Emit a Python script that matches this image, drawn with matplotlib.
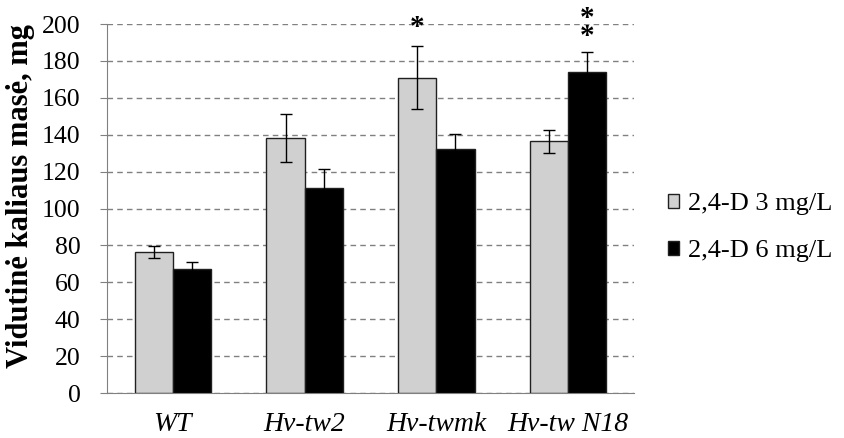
import matplotlib
matplotlib.use("Agg")
import matplotlib.pyplot as plt
import numpy as np

categories = ["WT", "Hv-tw2", "Hv-twmk", "Hv-tw N18"]
series_names = ["2,4-D 3 mg/L", "2,4-D 6 mg/L"]
vals_3 = [76.5, 138, 171, 136.5]
err_3 = [3.3, 13, 17, 6.3]
vals_6 = [67, 111, 132, 174]
err_6 = [4.2, 10.3, 8.5, 11]
stars_3 = ["", "", "*", ""]
stars_6 = ["", "", "", "*\n*"]
yticks = list(range(0, 201, 20))

plt.rcParams['font.family'] = ['Liberation Serif', 'DejaVu Serif']

fig = plt.figure(figsize=(8.44, 4.38), dpi=100)
ax = fig.add_axes([0.1268, 0.1027, 0.6244, 0.8425])

x = np.arange(len(categories))
w = 0.29
ekw = dict(ecolor='black', elinewidth=1.0, capsize=4.5, capthick=1.0)
ax.bar(x - w/2, vals_3, w, yerr=err_3, color='#D0D0D0', edgecolor='#202020',
       linewidth=1.0, label=series_names[0], error_kw=ekw, zorder=3)
ax.bar(x + w/2, vals_6, w, yerr=err_6, color='black', edgecolor='#202020',
       linewidth=1.0, label=series_names[1], error_kw=ekw, zorder=3)

for i, s in enumerate(stars_3):
    if s:
        ax.text(x[i] - w/2, 198, s, ha='center', va='center', fontsize=21,
                fontweight='bold', linespacing=0.6, zorder=4)
for i, s in enumerate(stars_6):
    if s:
        ax.text(x[i] + w/2, 198, s, ha='center', va='center', fontsize=21,
                fontweight='bold', linespacing=0.6, zorder=4)

ax.set_xlim(-0.5, 3.5)
ax.set_ylim(0, 200)
ax.set_yticks(yticks)
ax.set_xticks(x)
ax.set_xticklabels(categories, fontstyle='italic', fontsize=20)
ax.tick_params(axis='x', length=0, pad=14)
ax.tick_params(axis='y', length=5, direction='out', color='#808080', labelsize=18.5, pad=14)
ax.yaxis.grid(True, linestyle=(0, (4, 3)), color='#808080', linewidth=1.0, zorder=0)
ax.set_axisbelow(True)
for sp in ['top', 'right']:
    ax.spines[sp].set_visible(False)
ax.spines['left'].set_color('#808080')
ax.spines['bottom'].set_color('#808080')
ax.set_ylabel("Vidutinė kaliaus masė, mg", fontsize=22, fontweight='bold')
ax.yaxis.set_label_coords(-0.1366, 0.5325)

leg = fig.legend(loc='center left', bbox_to_anchor=(0.785, 0.48), frameon=False,
                 fontsize=19, handlelength=0.42, handleheight=0.42, handletextpad=0.35,
                 labelspacing=0.95, borderaxespad=0, borderpad=0.2)
fig.savefig("out.png", dpi=100)
